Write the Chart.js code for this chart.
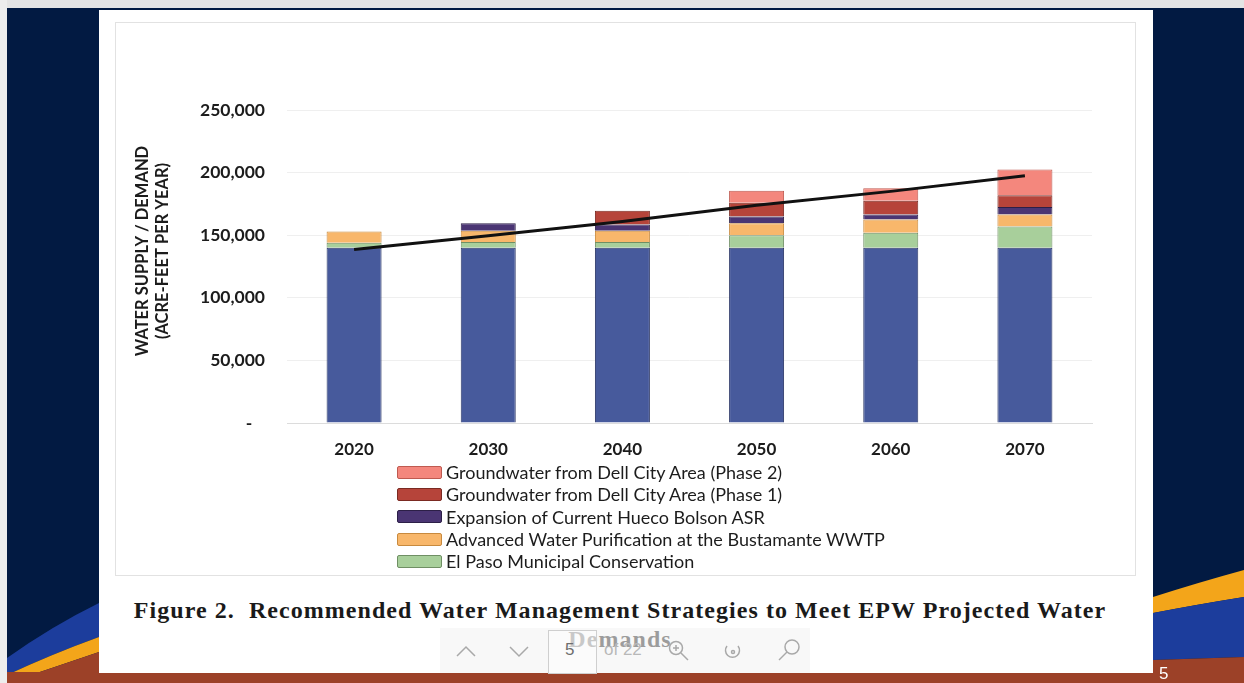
<!DOCTYPE html>
<html>
<head>
<meta charset="utf-8">
<script src="https://cdn.jsdelivr.net/npm/chart.js@4.4.1/dist/chart.umd.min.js"></script>
<style>
  html, body { margin: 0; padding: 0; }
  body { width: 1244px; height: 683px; position: relative; overflow: hidden; background: #021a42; font-family: Lato, "Open Sans", sans-serif; }
  #deco { position: absolute; left: 0; top: 0; }
  #topStrip { position: absolute; left: 0; top: 0; width: 1244px; height: 8px; background: #e4e4e4; }
  #leftStrip { position: absolute; left: 0; top: 0; width: 7px; height: 683px; background: #ededed; }
  #panel { position: absolute; left: 99px; top: 10px; width: 1054px; height: 663px; background: #ffffff; }
  #chartBox { position: absolute; left: 115px; top: 22px; width: 1019px; height: 552px; border: 1px solid #e2e2e2; }
  #chart { position: absolute; left: 115px; top: 22px; }
  #legend { position: absolute; left: 397px; top: 461px; }
  .lg { height: 22.3px; display: flex; align-items: center; font-size: 18px; color: #1c1c1c; white-space: nowrap; }
  .lg span.sw { display: inline-block; width: 43px; height: 11px; margin-right: 4px; border: 1.5px solid; border-radius: 2px; }
  .caption { position: absolute; left: 0; width: 1240px; text-align: center; font-family: "Liberation Serif", "DejaVu Serif", serif; font-weight: bold; font-size: 24px; letter-spacing: 1.05px; color: #1a1a1a; }
  #toolbar { position: absolute; left: 440px; top: 628px; width: 370px; height: 45px; background: rgba(244,244,244,0.6); }
  #pageBox { position: absolute; left: 548px; top: 630px; width: 47px; height: 42px; border: 1px solid #cfcfcf; background: rgba(255,255,255,0.45); }
  #pageNum { position: absolute; left: 565px; top: 640px; font-family: "Liberation Sans", sans-serif; font-size: 17px; color: #6e6e6e; }
  #pageOf { position: absolute; left: 604px; top: 640px; font-family: "Liberation Sans", sans-serif; font-size: 17px; color: #b8b8b8; }
  #slideNo { position: absolute; left: 1159px; top: 664px; font-family: "Liberation Sans", Arial, sans-serif; font-size: 17px; color: #ffffff; }
</style>
</head>
<body>
<svg id="deco" width="1244" height="683">
  <!-- left corner sweep -->
  <path d="M7,658 Q52,626 99,603 L99,637 Q52,654 7,675 Z" fill="#1c3d9c"/>
  <path d="M7,675 Q52,654 99,637 L99,652 Q52,668 7,683 Z" fill="#f3a51a"/>
  <path d="M7,683 Q52,668 99,652 L99,683 Z" fill="#9c4128"/>
  <!-- right corner sweep -->
  <path d="M1153,597 Q1200,582 1244,570 L1244,597 Q1200,604 1153,613 Z" fill="#f3a51a"/>
  <path d="M1153,613 Q1200,604 1244,597 L1244,657 L1153,660 Z" fill="#1c3d9c"/>
  <path d="M1153,660 L1244,657 L1244,683 L1153,683 Z" fill="#9c4128"/>
  <rect x="0" y="672" width="1244" height="11" fill="#9c4128"/>
</svg>
<div id="topStrip"></div>
<div id="leftStrip"></div>
<div id="panel"></div>
<div id="chartBox"></div>
<canvas id="chart" width="1020" height="441"></canvas>
<div id="legend"></div>

<div class="caption" style="top:597px;">Figure 2.&nbsp; Recommended Water Management Strategies to Meet EPW Projected Water</div>
<div class="caption" style="top:626px;">Demands</div>

<div id="toolbar"></div>
<div id="pageBox"></div>
<div id="pageNum">5</div>
<div id="pageOf">of 22</div>
<svg style="position:absolute;left:0;top:0;" width="1244" height="683">
  <g fill="none" stroke="#a9a9a9" stroke-width="1.5">
    <polyline points="457,656 466,647 475,656"/>
    <polyline points="510,647 519,656 528,647"/>
    <circle cx="676" cy="648" r="6.5"/>
    <line x1="673" y1="648" x2="679" y2="648"/>
    <line x1="676" y1="645" x2="676" y2="651"/>
    <line x1="681" y1="653" x2="688" y2="660"/>
    <path d="M727,646 A7,7 0 1 0 738,646"/>
    <circle cx="733" cy="652" r="1.5"/>
    <circle cx="792" cy="647" r="7"/>
    <line x1="787" y1="652" x2="779" y2="660"/>
  </g>
</svg>
<div id="slideNo">5</div>

<script>
// Planning years
const years = ['2020', '2030', '2040', '2050', '2060', '2070'];

// Supply by source, acre-feet per year (null = strategy not yet online)
const currentSupply   = [140000, 140000, 140000, 140000, 140000, 140000];
const conservation    = [4000, 4500, 4500, 10000, 12000, 17000];
const advancedPurif   = [9000, 9000, 9000, 9500, 10500, 9500];
const huecoBolsonASR  = [null, 6000, 5000, 5500, 4000, 6000];
const dellCityPhase1  = [null, null, 11000, 11000, 11000, 9500];
const dellCityPhase2  = [null, null, null, 9500, 10000, 20500];

// Projected demand, acre-feet per year
const projectedDemand = [138500, 149500, 161000, 174000, 185000, 197500];

// Value axis
const yTickValues = [0, 50000, 100000, 150000, 200000, 250000];

const legendNames = [
  'Groundwater from Dell City Area (Phase 2)',
  'Groundwater from Dell City Area (Phase 1)',
  'Expansion of Current Hueco Bolson ASR',
  'Advanced Water Purification at the Bustamante WWTP',
  'El Paso Municipal Conservation'
];

const fills   = { base: '#475a9c', cons: '#a8cf9b', awp: '#f8b76b', asr: '#4a3573', p1: '#b6443a', p2: '#f4877d' };
const borders = { base: '#2c3868', cons: '#6f8f64', awp: '#c88a3e', asr: '#2c1f47', p1: '#7b2a22', p2: '#bf5a50' };

function barSet(label, data, key) {
  return {
    type: 'bar', label, data, order: 1, stack: 'supply',
    backgroundColor: fills[key], borderColor: borders[key], borderWidth: 1,
    barPercentage: 0.41, categoryPercentage: 1.0
  };
}

const datasets = [
  barSet('Current Supply', currentSupply, 'base'),
  barSet(legendNames[4], conservation, 'cons'),
  barSet(legendNames[3], advancedPurif, 'awp'),
  barSet(legendNames[2], huecoBolsonASR, 'asr'),
  barSet(legendNames[1], dellCityPhase1, 'p1'),
  barSet(legendNames[0], dellCityPhase2, 'p2'),
  {
    type: 'line', label: 'Projected Demand', data: projectedDemand, order: 0, stack: 'demand',
    borderColor: '#111111', borderWidth: 3, pointRadius: 0, tension: 0, fill: false
  }
];

// Rotated two-line axis title
const axisTitle = {
  id: 'axisTitle',
  afterDraw(chart) {
    const ctx = chart.ctx;
    ctx.save();
    ctx.fillStyle = '#1c1c1c';
    ctx.font = 'bold 16.5px Lato, sans-serif';
    ctx.textAlign = 'center';
    ctx.textBaseline = 'middle';
    ctx.translate(28, 229);
    ctx.rotate(-Math.PI / 2);
    ctx.fillText('WATER SUPPLY / DEMAND', 0, 0);
    ctx.fillText('(ACRE-FEET PER YEAR)', 0, 20);
    ctx.restore();
  }
};

new Chart(document.getElementById('chart'), {
  type: 'bar',
  data: { labels: years, datasets },
  options: {
    responsive: false,
    animation: false,
    devicePixelRatio: 1,
    layout: { padding: { top: 88, right: 43, bottom: 0, left: 0 } },
    plugins: { legend: { display: false }, tooltip: { enabled: false } },
    scales: {
      x: {
        stacked: true,
        grid: { display: false, drawTicks: false },
        border: { display: true, color: '#dcdcdc' },
        ticks: { color: '#1c1c1c', font: { family: 'Lato', size: 17, weight: 'bold' }, padding: 16 },
        afterFit(scale) { scale.height = 40; }
      },
      y: {
        stacked: true,
        min: 0, max: 250000,
        afterBuildTicks(scale) { scale.ticks = yTickValues.map(v => ({ value: v })); },
        grid: { color: '#efefef', lineWidth: 1, drawTicks: false },
        border: { display: false },
        ticks: {
          color: '#1c1c1c',
          font: { family: 'Lato', size: 17.5, weight: 'bold' },
          padding: 22,
          callback: v => v === 0 ? '-   ' : v.toLocaleString('en-US')
        },
        afterFit(scale) { scale.width = 172; }
      }
    }
  },
  plugins: [axisTitle]
});

// Legend: top entry is the top of the stack
const legendKeys = ['p2', 'p1', 'asr', 'awp', 'cons'];
const legendEl = document.getElementById('legend');
legendNames.forEach((name, i) => {
  const row = document.createElement('div');
  row.className = 'lg';
  const sw = document.createElement('span');
  sw.className = 'sw';
  sw.style.background = fills[legendKeys[i]];
  sw.style.borderColor = borders[legendKeys[i]];
  row.appendChild(sw);
  row.appendChild(document.createTextNode(name));
  legendEl.appendChild(row);
});
</script>
</body>
</html>
